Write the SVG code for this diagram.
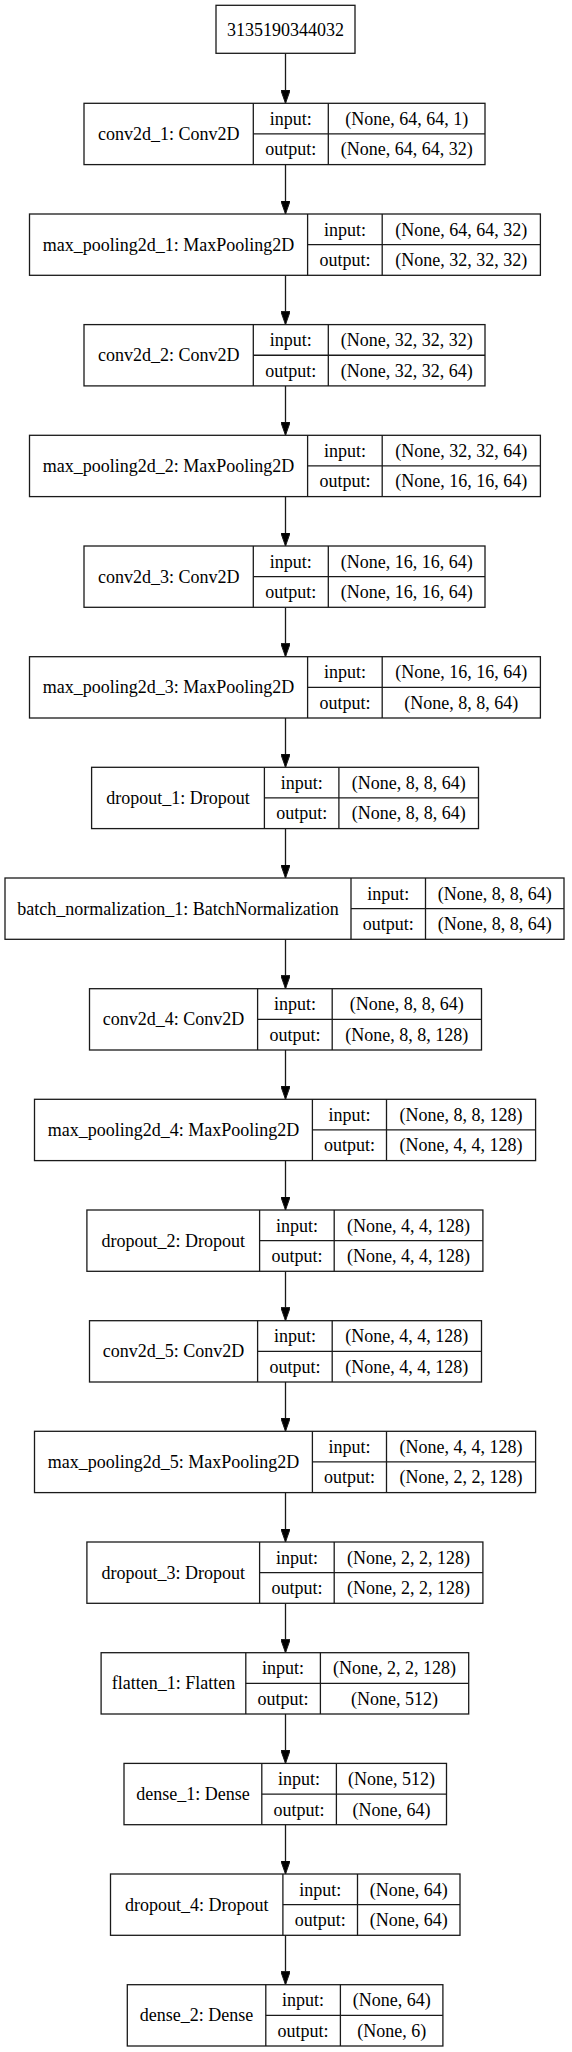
<svg xmlns="http://www.w3.org/2000/svg" width="572" height="2052" viewBox="0 0 572 2052">
<defs>
<style>
.bg{fill:#fff}
.box{fill:#fff;stroke:#1a1a1a;stroke-width:1.3}
.sep{stroke:#1a1a1a;stroke-width:1.3}
.t{font-family:"Liberation Serif","Times New Roman",serif;font-size:18px;fill:#000;text-anchor:middle}
.edge{stroke:#1a1a1a;stroke-width:1.3;fill:none}
</style>
<marker id="arr" markerWidth="13.3" markerHeight="9.4" refX="13.3" refY="4.7" orient="auto" markerUnits="userSpaceOnUse">
<path d="M0,0 L13.3,4.7 L0,9.4 z" fill="#000" stroke="#1a1a1a" stroke-width="1"/>
</marker>
</defs>
<rect class="bg" x="0" y="0" width="572" height="2052"/>

<g id="edges">
<line class="edge" x1="285.5" y1="53.3" x2="285.5" y2="103.3" marker-end="url(#arr)"/>
<line class="edge" x1="285.5" y1="164.6" x2="285.5" y2="214.0" marker-end="url(#arr)"/>
<line class="edge" x1="285.5" y1="275.3" x2="285.5" y2="324.6" marker-end="url(#arr)"/>
<line class="edge" x1="285.5" y1="385.9" x2="285.5" y2="435.3" marker-end="url(#arr)"/>
<line class="edge" x1="285.5" y1="496.6" x2="285.5" y2="546.0" marker-end="url(#arr)"/>
<line class="edge" x1="285.5" y1="607.3" x2="285.5" y2="656.7" marker-end="url(#arr)"/>
<line class="edge" x1="285.5" y1="718.0" x2="285.5" y2="767.3" marker-end="url(#arr)"/>
<line class="edge" x1="285.5" y1="828.6" x2="285.5" y2="878.0" marker-end="url(#arr)"/>
<line class="edge" x1="285.5" y1="939.3" x2="285.5" y2="988.7" marker-end="url(#arr)"/>
<line class="edge" x1="285.5" y1="1050.0" x2="285.5" y2="1099.3" marker-end="url(#arr)"/>
<line class="edge" x1="285.5" y1="1160.6" x2="285.5" y2="1210.0" marker-end="url(#arr)"/>
<line class="edge" x1="285.5" y1="1271.3" x2="285.5" y2="1320.7" marker-end="url(#arr)"/>
<line class="edge" x1="285.5" y1="1382.0" x2="285.5" y2="1431.3" marker-end="url(#arr)"/>
<line class="edge" x1="285.5" y1="1492.6" x2="285.5" y2="1542.0" marker-end="url(#arr)"/>
<line class="edge" x1="285.5" y1="1603.3" x2="285.5" y2="1652.7" marker-end="url(#arr)"/>
<line class="edge" x1="285.5" y1="1714.0" x2="285.5" y2="1763.4" marker-end="url(#arr)"/>
<line class="edge" x1="285.5" y1="1824.7" x2="285.5" y2="1874.0" marker-end="url(#arr)"/>
<line class="edge" x1="285.5" y1="1935.3" x2="285.5" y2="1984.7" marker-end="url(#arr)"/>
</g>

<g id="input_node">
<rect class="box" x="216" y="5.3" width="139" height="48"/>
<text class="t" x="285.5" y="35.5">3135190344032</text>
</g>

<g id="conv2d_1" transform="translate(0,103.3)">
<rect class="box" x="84" y="0" width="401" height="61.3"/>
<line class="sep" x1="253.3" y1="0" x2="253.3" y2="61.3"/>
<line class="sep" x1="328.3" y1="0" x2="328.3" y2="61.3"/>
<line class="sep" x1="253.3" y1="30.65" x2="485" y2="30.65"/>
<text class="t" x="168.65" y="36.5">conv2d_1: Conv2D</text>
<text class="t" x="290.8" y="21.5">input:</text>
<text class="t" x="290.8" y="52.2">output:</text>
<text class="t" x="406.65" y="21.5">(None, 64, 64, 1)</text>
<text class="t" x="406.65" y="52.2">(None, 64, 64, 32)</text>
</g>

<g id="max_pooling2d_1" transform="translate(0,214.0)">
<rect class="box" x="29.5" y="0" width="510.9" height="61.3"/>
<line class="sep" x1="307.6" y1="0" x2="307.6" y2="61.3"/>
<line class="sep" x1="382.2" y1="0" x2="382.2" y2="61.3"/>
<line class="sep" x1="307.6" y1="30.65" x2="540.4" y2="30.65"/>
<text class="t" x="168.55" y="36.5">max_pooling2d_1: MaxPooling2D</text>
<text class="t" x="344.9" y="21.5">input:</text>
<text class="t" x="344.9" y="52.2">output:</text>
<text class="t" x="461.3" y="21.5">(None, 64, 64, 32)</text>
<text class="t" x="461.3" y="52.2">(None, 32, 32, 32)</text>
</g>

<g id="conv2d_2" transform="translate(0,324.6)">
<rect class="box" x="84" y="0" width="401" height="61.3"/>
<line class="sep" x1="253.3" y1="0" x2="253.3" y2="61.3"/>
<line class="sep" x1="328.3" y1="0" x2="328.3" y2="61.3"/>
<line class="sep" x1="253.3" y1="30.65" x2="485" y2="30.65"/>
<text class="t" x="168.65" y="36.5">conv2d_2: Conv2D</text>
<text class="t" x="290.8" y="21.5">input:</text>
<text class="t" x="290.8" y="52.2">output:</text>
<text class="t" x="406.65" y="21.5">(None, 32, 32, 32)</text>
<text class="t" x="406.65" y="52.2">(None, 32, 32, 64)</text>
</g>

<g id="max_pooling2d_2" transform="translate(0,435.3)">
<rect class="box" x="29.5" y="0" width="510.9" height="61.3"/>
<line class="sep" x1="307.6" y1="0" x2="307.6" y2="61.3"/>
<line class="sep" x1="382.2" y1="0" x2="382.2" y2="61.3"/>
<line class="sep" x1="307.6" y1="30.65" x2="540.4" y2="30.65"/>
<text class="t" x="168.55" y="36.5">max_pooling2d_2: MaxPooling2D</text>
<text class="t" x="344.9" y="21.5">input:</text>
<text class="t" x="344.9" y="52.2">output:</text>
<text class="t" x="461.3" y="21.5">(None, 32, 32, 64)</text>
<text class="t" x="461.3" y="52.2">(None, 16, 16, 64)</text>
</g>

<g id="conv2d_3" transform="translate(0,546.0)">
<rect class="box" x="84" y="0" width="401" height="61.3"/>
<line class="sep" x1="253.3" y1="0" x2="253.3" y2="61.3"/>
<line class="sep" x1="328.3" y1="0" x2="328.3" y2="61.3"/>
<line class="sep" x1="253.3" y1="30.65" x2="485" y2="30.65"/>
<text class="t" x="168.65" y="36.5">conv2d_3: Conv2D</text>
<text class="t" x="290.8" y="21.5">input:</text>
<text class="t" x="290.8" y="52.2">output:</text>
<text class="t" x="406.65" y="21.5">(None, 16, 16, 64)</text>
<text class="t" x="406.65" y="52.2">(None, 16, 16, 64)</text>
</g>

<g id="max_pooling2d_3" transform="translate(0,656.7)">
<rect class="box" x="29.5" y="0" width="510.9" height="61.3"/>
<line class="sep" x1="307.6" y1="0" x2="307.6" y2="61.3"/>
<line class="sep" x1="382.2" y1="0" x2="382.2" y2="61.3"/>
<line class="sep" x1="307.6" y1="30.65" x2="540.4" y2="30.65"/>
<text class="t" x="168.55" y="36.5">max_pooling2d_3: MaxPooling2D</text>
<text class="t" x="344.9" y="21.5">input:</text>
<text class="t" x="344.9" y="52.2">output:</text>
<text class="t" x="461.3" y="21.5">(None, 16, 16, 64)</text>
<text class="t" x="461.3" y="52.2">(None, 8, 8, 64)</text>
</g>

<g id="dropout_1" transform="translate(0,767.3)">
<rect class="box" x="91.6" y="0" width="386.9" height="61.3"/>
<line class="sep" x1="264.4" y1="0" x2="264.4" y2="61.3"/>
<line class="sep" x1="338.9" y1="0" x2="338.9" y2="61.3"/>
<line class="sep" x1="264.4" y1="30.65" x2="478.5" y2="30.65"/>
<text class="t" x="178" y="36.5">dropout_1: Dropout</text>
<text class="t" x="301.65" y="21.5">input:</text>
<text class="t" x="301.65" y="52.2">output:</text>
<text class="t" x="408.7" y="21.5">(None, 8, 8, 64)</text>
<text class="t" x="408.7" y="52.2">(None, 8, 8, 64)</text>
</g>

<g id="batch_normalization_1" transform="translate(0,878.0)">
<rect class="box" x="5" y="0" width="559" height="61.3"/>
<line class="sep" x1="351" y1="0" x2="351" y2="61.3"/>
<line class="sep" x1="425.5" y1="0" x2="425.5" y2="61.3"/>
<line class="sep" x1="351" y1="30.65" x2="564" y2="30.65"/>
<text class="t" x="178" y="36.5">batch_normalization_1: BatchNormalization</text>
<text class="t" x="388.25" y="21.5">input:</text>
<text class="t" x="388.25" y="52.2">output:</text>
<text class="t" x="494.75" y="21.5">(None, 8, 8, 64)</text>
<text class="t" x="494.75" y="52.2">(None, 8, 8, 64)</text>
</g>

<g id="conv2d_4" transform="translate(0,988.7)">
<rect class="box" x="89.5" y="0" width="392" height="61.3"/>
<line class="sep" x1="257.6" y1="0" x2="257.6" y2="61.3"/>
<line class="sep" x1="332.2" y1="0" x2="332.2" y2="61.3"/>
<line class="sep" x1="257.6" y1="30.65" x2="481.5" y2="30.65"/>
<text class="t" x="173.55" y="36.5">conv2d_4: Conv2D</text>
<text class="t" x="294.9" y="21.5">input:</text>
<text class="t" x="294.9" y="52.2">output:</text>
<text class="t" x="406.85" y="21.5">(None, 8, 8, 64)</text>
<text class="t" x="406.85" y="52.2">(None, 8, 8, 128)</text>
</g>

<g id="max_pooling2d_4" transform="translate(0,1099.3)">
<rect class="box" x="34.5" y="0" width="501.1" height="61.3"/>
<line class="sep" x1="312.4" y1="0" x2="312.4" y2="61.3"/>
<line class="sep" x1="386.5" y1="0" x2="386.5" y2="61.3"/>
<line class="sep" x1="312.4" y1="30.65" x2="535.6" y2="30.65"/>
<text class="t" x="173.45" y="36.5">max_pooling2d_4: MaxPooling2D</text>
<text class="t" x="349.45" y="21.5">input:</text>
<text class="t" x="349.45" y="52.2">output:</text>
<text class="t" x="461.05" y="21.5">(None, 8, 8, 128)</text>
<text class="t" x="461.05" y="52.2">(None, 4, 4, 128)</text>
</g>

<g id="dropout_2" transform="translate(0,1210.0)">
<rect class="box" x="86.9" y="0" width="396" height="61.3"/>
<line class="sep" x1="259.6" y1="0" x2="259.6" y2="61.3"/>
<line class="sep" x1="334.2" y1="0" x2="334.2" y2="61.3"/>
<line class="sep" x1="259.6" y1="30.65" x2="482.9" y2="30.65"/>
<text class="t" x="173.25" y="36.5">dropout_2: Dropout</text>
<text class="t" x="296.9" y="21.5">input:</text>
<text class="t" x="296.9" y="52.2">output:</text>
<text class="t" x="408.55" y="21.5">(None, 4, 4, 128)</text>
<text class="t" x="408.55" y="52.2">(None, 4, 4, 128)</text>
</g>

<g id="conv2d_5" transform="translate(0,1320.7)">
<rect class="box" x="89.5" y="0" width="392" height="61.3"/>
<line class="sep" x1="257.6" y1="0" x2="257.6" y2="61.3"/>
<line class="sep" x1="332.2" y1="0" x2="332.2" y2="61.3"/>
<line class="sep" x1="257.6" y1="30.65" x2="481.5" y2="30.65"/>
<text class="t" x="173.55" y="36.5">conv2d_5: Conv2D</text>
<text class="t" x="294.9" y="21.5">input:</text>
<text class="t" x="294.9" y="52.2">output:</text>
<text class="t" x="406.85" y="21.5">(None, 4, 4, 128)</text>
<text class="t" x="406.85" y="52.2">(None, 4, 4, 128)</text>
</g>

<g id="max_pooling2d_5" transform="translate(0,1431.3)">
<rect class="box" x="34.5" y="0" width="501.1" height="61.3"/>
<line class="sep" x1="312.4" y1="0" x2="312.4" y2="61.3"/>
<line class="sep" x1="386.5" y1="0" x2="386.5" y2="61.3"/>
<line class="sep" x1="312.4" y1="30.65" x2="535.6" y2="30.65"/>
<text class="t" x="173.45" y="36.5">max_pooling2d_5: MaxPooling2D</text>
<text class="t" x="349.45" y="21.5">input:</text>
<text class="t" x="349.45" y="52.2">output:</text>
<text class="t" x="461.05" y="21.5">(None, 4, 4, 128)</text>
<text class="t" x="461.05" y="52.2">(None, 2, 2, 128)</text>
</g>

<g id="dropout_3" transform="translate(0,1542.0)">
<rect class="box" x="86.9" y="0" width="396" height="61.3"/>
<line class="sep" x1="259.6" y1="0" x2="259.6" y2="61.3"/>
<line class="sep" x1="334.2" y1="0" x2="334.2" y2="61.3"/>
<line class="sep" x1="259.6" y1="30.65" x2="482.9" y2="30.65"/>
<text class="t" x="173.25" y="36.5">dropout_3: Dropout</text>
<text class="t" x="296.9" y="21.5">input:</text>
<text class="t" x="296.9" y="52.2">output:</text>
<text class="t" x="408.55" y="21.5">(None, 2, 2, 128)</text>
<text class="t" x="408.55" y="52.2">(None, 2, 2, 128)</text>
</g>

<g id="flatten_1" transform="translate(0,1652.7)">
<rect class="box" x="101.1" y="0" width="367.6" height="61.3"/>
<line class="sep" x1="245.8" y1="0" x2="245.8" y2="61.3"/>
<line class="sep" x1="320.4" y1="0" x2="320.4" y2="61.3"/>
<line class="sep" x1="245.8" y1="30.65" x2="468.7" y2="30.65"/>
<text class="t" x="173.45" y="36.5">flatten_1: Flatten</text>
<text class="t" x="283.1" y="21.5">input:</text>
<text class="t" x="283.1" y="52.2">output:</text>
<text class="t" x="394.55" y="21.5">(None, 2, 2, 128)</text>
<text class="t" x="394.55" y="52.2">(None, 512)</text>
</g>

<g id="dense_1" transform="translate(0,1763.4)">
<rect class="box" x="124" y="0" width="322.5" height="61.3"/>
<line class="sep" x1="261.8" y1="0" x2="261.8" y2="61.3"/>
<line class="sep" x1="336.4" y1="0" x2="336.4" y2="61.3"/>
<line class="sep" x1="261.8" y1="30.65" x2="446.5" y2="30.65"/>
<text class="t" x="192.9" y="36.5">dense_1: Dense</text>
<text class="t" x="299.1" y="21.5">input:</text>
<text class="t" x="299.1" y="52.2">output:</text>
<text class="t" x="391.45" y="21.5">(None, 512)</text>
<text class="t" x="391.45" y="52.2">(None, 64)</text>
</g>

<g id="dropout_4" transform="translate(0,1874.0)">
<rect class="box" x="110.5" y="0" width="349.5" height="61.3"/>
<line class="sep" x1="282.9" y1="0" x2="282.9" y2="61.3"/>
<line class="sep" x1="357.5" y1="0" x2="357.5" y2="61.3"/>
<line class="sep" x1="282.9" y1="30.65" x2="460" y2="30.65"/>
<text class="t" x="196.7" y="36.5">dropout_4: Dropout</text>
<text class="t" x="320.2" y="21.5">input:</text>
<text class="t" x="320.2" y="52.2">output:</text>
<text class="t" x="408.75" y="21.5">(None, 64)</text>
<text class="t" x="408.75" y="52.2">(None, 64)</text>
</g>

<g id="dense_2" transform="translate(0,1984.7)">
<rect class="box" x="127.3" y="0" width="315.6" height="61.3"/>
<line class="sep" x1="265.8" y1="0" x2="265.8" y2="61.3"/>
<line class="sep" x1="340.4" y1="0" x2="340.4" y2="61.3"/>
<line class="sep" x1="265.8" y1="30.65" x2="442.9" y2="30.65"/>
<text class="t" x="196.55" y="36.5">dense_2: Dense</text>
<text class="t" x="303.1" y="21.5">input:</text>
<text class="t" x="303.1" y="52.2">output:</text>
<text class="t" x="391.65" y="21.5">(None, 64)</text>
<text class="t" x="391.65" y="52.2">(None, 6)</text>
</g>
</svg>
